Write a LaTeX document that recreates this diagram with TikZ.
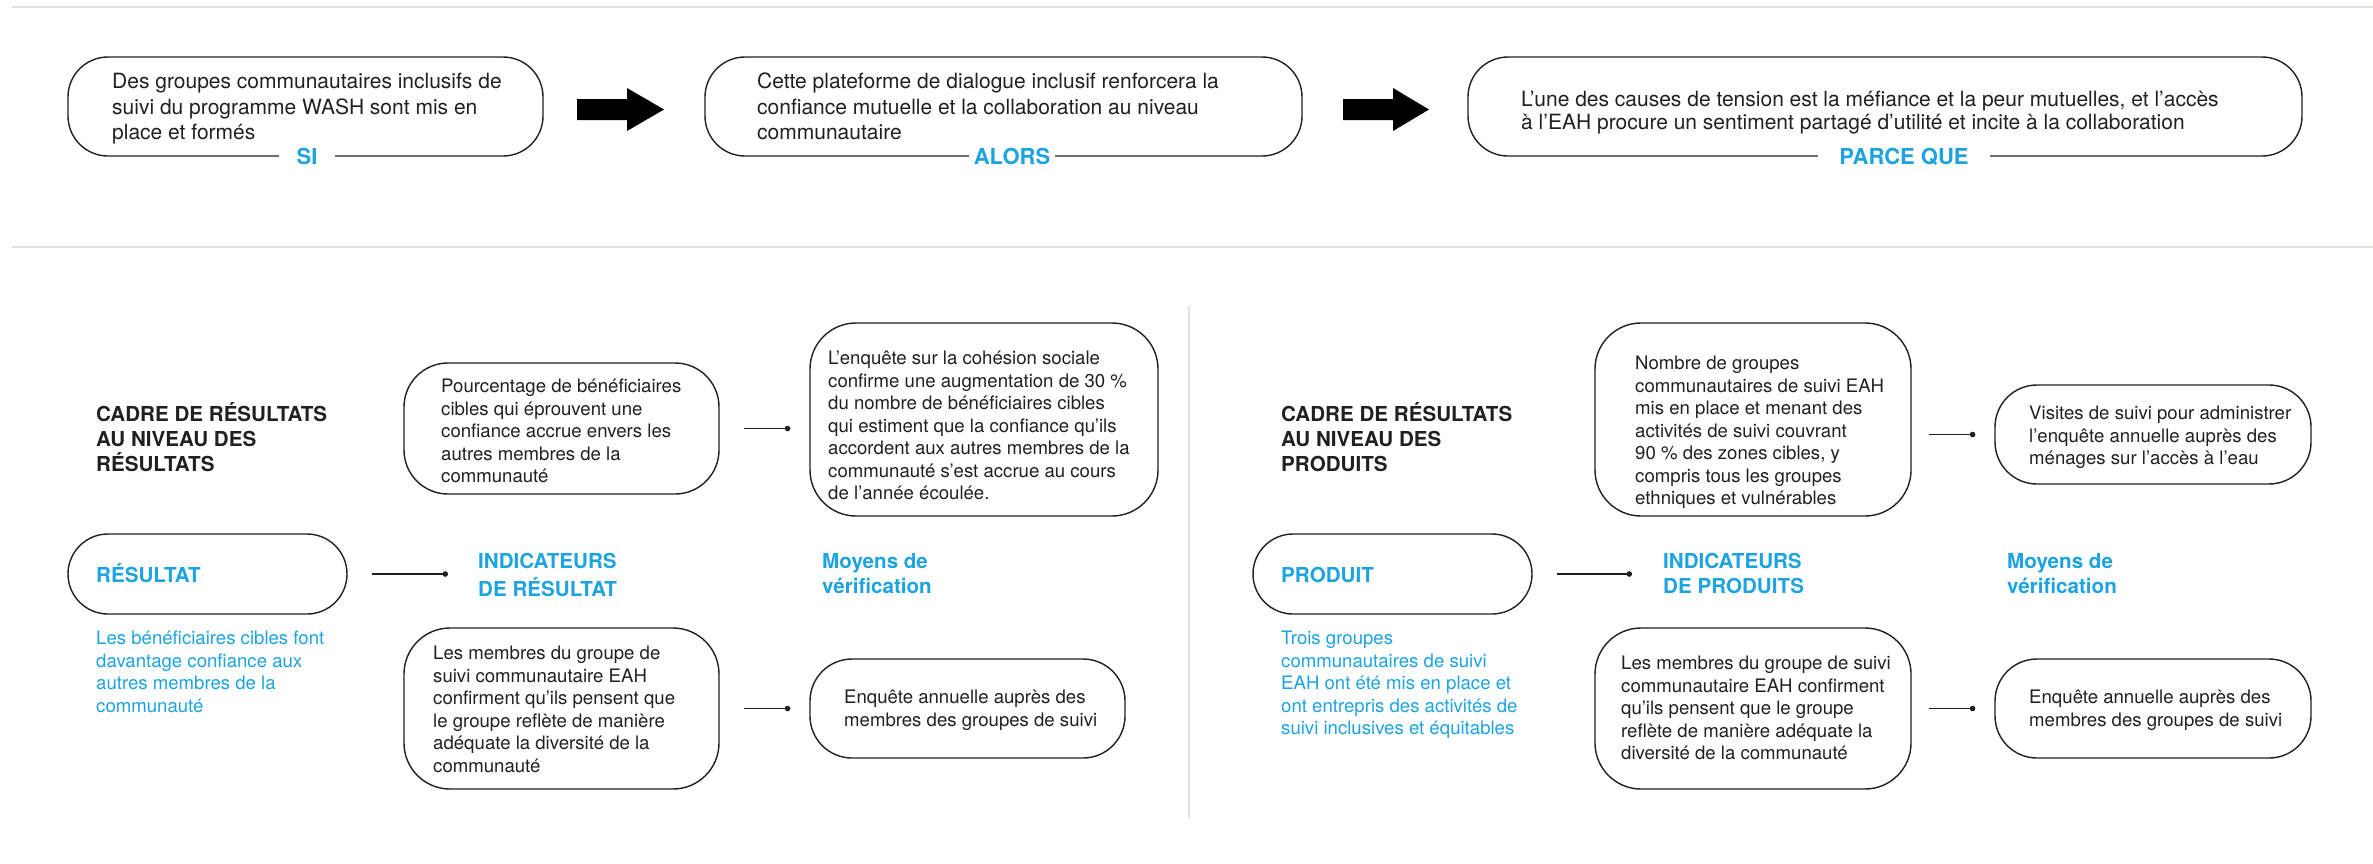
\documentclass[tikz,border=0pt]{standalone}
\usepackage{fontspec}
\setmainfont{TeX Gyre Heros}
\usetikzlibrary{arrows.meta,calc}
\definecolor{bleu}{RGB}{28,163,224}
\definecolor{encre}{RGB}{35,31,32}
\definecolor{trait}{RGB}{228,225,221}

\tikzset{
  boite/.style 2 args={draw=encre, line width=1.4pt, rounded corners=40pt,
    minimum width=#1, minimum height=#2, inner sep=0pt},
  texte/.style={anchor=north west, align=left, inner sep=0pt, text=encre,
    font=\fontsize{18.6pt}{22.5pt}\selectfont},
  texteh/.style={texte, font=\fontsize{21pt}{25.5pt}\selectfont},
  titre/.style={anchor=north west, align=left, inner sep=0pt, text=encre,
    font=\bfseries\fontsize{20.6pt}{25pt}\selectfont},
  etiquette/.style={anchor=base, fill=white, text=bleu, inner ysep=2pt,
    font=\bfseries\fontsize{22pt}{26pt}\selectfont},
  lien/.style={draw=encre, line width=1.3pt, -{Circle[length=5.5pt]}},
  fleche/.style={fill=black}
}

\begin{document}
\begin{tikzpicture}[x=1pt,y=-1pt]
\useasboundingbox (0,0) rectangle (2373,863);

\draw[trait, line width=2pt] (12,7) -- (2373,7);
\draw[trait, line width=2pt] (12,247) -- (2373,247);
\draw[trait, line width=1.5pt] (1189,306) -- (1189,818);

\node[boite={475}{99}] (si) at (305.5,106.5) {};
\node[boite={597}{99}] (alors) at (1003.5,106.5) {};
\node[boite={834}{99}] (parce) at (1885,106.5) {};

\node[texteh] (sitxt) at (112,70.5) {\strut Des groupes communautaires inclusifs de\\suivi du programme WASH sont mis en\\place et formés};
\node[texteh] (alorstxt) at (757,70.5) {\strut Cette plateforme de dialogue inclusif renforcera la\\confiance mutuelle et la collaboration au niveau\\communautaire};
\node[texteh, font=\fontsize{21pt}{23pt}\selectfont] (parcetxt) at (1521,90) {\strut L’une des causes de tension est la méfiance et la peur mutuelles, et l’accès\\à l’EAH procure un sentiment partagé d’utilité et incite à la collaboration};

\node[etiquette, inner xsep=18pt] (lblsi) at (307,164.4) {SI};
\node[etiquette, inner xsep=4.5pt] (lblalors) at (1012,164.4) {ALORS};
\node[etiquette, inner xsep=21pt] (lblparce) at (1904,164.4) {PARCE QUE};

\coordinate (f1) at (620.5,109.5);
\coordinate (f2) at (1386,109.5);
\fill[fleche] (f1) ++(-43.5,-10.5) -- ++(50,0) -- ++(0,-11) -- ++(37,21.5) -- ++(-37,21.5) -- ++(0,-11) -- ++(-50,0) -- cycle;
\fill[fleche] (f2) ++(-43,-10.5) -- ++(50,0) -- ++(0,-11) -- ++(36,21.5) -- ++(-36,21.5) -- ++(0,-11) -- ++(-50,0) -- cycle;

\node[titre] (cadre1) at (96,402) {\strut CADRE DE RÉSULTATS\\AU NIVEAU DES\\RÉSULTATS};
\node[boite={279}{80}] (res) at (207.5,574) {};
\node[titre, anchor=base west, text=bleu] (restxt) at (96,582.4) {RÉSULTAT};
\node[texte, text=bleu] (resdesc) at (96,629) {\strut Les bénéficiaires cibles font\\davantage confiance aux\\autres membres de la\\communauté};
\node[titre, text=bleu] (indtit1) at (478,551) {\strut INDICATEURS\\DE RÉSULTAT};
\node[titre, text=bleu] (movtit1) at (822,551) {\strut Moyens de\\vérification};

\node[boite={315}{131}, rounded corners=44pt] (ind1) at (561.5,428.5) {};
\node[texte] (ind1txt) at (441,377) {\strut Pourcentage de bénéficiaires\\cibles qui éprouvent une\\confiance accrue envers les\\autres membres de la\\communauté};
\node[boite={348}{193}, rounded corners=46pt] (mov1) at (984,419.5) {};
\node[texte] (mov1txt) at (828,349) {\strut L’enquête sur la cohésion sociale\\confirme une augmentation de 30~\%\\du nombre de bénéficiaires cibles\\qui estiment que la confiance qu’ils\\accordent aux autres membres de la\\communauté s’est accrue au cours\\de l’année écoulée.};
\node[boite={315}{161}, rounded corners=46pt] (ind2) at (561.5,708.5) {};
\node[texte] (ind2txt) at (433,644) {\strut Les membres du groupe de\\suivi communautaire EAH\\confirment qu’ils pensent que\\le groupe reflète de manière\\adéquate la diversité de la\\communauté};
\node[boite={315}{99}, rounded corners=42pt] (mov2) at (967.5,708.5) {};
\node[texte] (mov2txt) at (844,688) {\strut Enquête annuelle auprès des\\membres des groupes de suivi};

\draw[lien, shorten <=24pt, shorten >=30pt] (res.east) -- (res.east -| indtit1.west);
\draw[lien, shorten <=24pt, shorten >=19pt] (ind1.east) -- (ind1.east -| mov1.west);
\draw[lien, shorten <=24pt, shorten >=19pt] (ind2.east) -- (ind2.east -| mov2.west);

\node[titre] (cadre2) at (1281,402) {\strut CADRE DE RÉSULTATS\\AU NIVEAU DES\\PRODUITS};
\node[boite={279}{80}] (prod) at (1392.5,574) {};
\node[titre, anchor=base west, text=bleu] (prodtxt) at (1281,582.4) {PRODUIT};
\node[texte, text=bleu] (proddesc) at (1281,629) {\strut Trois groupes\\communautaires de suivi\\EAH ont été mis en place et\\ont entrepris des activités de\\suivi inclusives et équitables};
\node[titre, text=bleu] (indtit2) at (1663,551) {\strut INDICATEURS\\DE PRODUITS};
\node[titre, text=bleu] (movtit2) at (2007,551) {\strut Moyens de\\vérification};

\node[boite={316}{193}, rounded corners=46pt] (ind3) at (1753,419.5) {};
\node[texte] (ind3txt) at (1635,354) {\strut Nombre de groupes\\communautaires de suivi EAH\\mis en place et menant des\\activités de suivi couvrant\\90~\% des zones cibles, y\\compris tous les groupes\\ethniques et vulnérables};
\node[boite={316}{99}, rounded corners=42pt] (mov3) at (2153,434.5) {};
\node[texte] (mov3txt) at (2029,404) {\strut Visites de suivi pour administrer\\l’enquête annuelle auprès des\\ménages sur l’accès à l’eau};
\node[boite={316}{161}, rounded corners=46pt] (ind4) at (1753,708.5) {};
\node[texte] (ind4txt) at (1621,654) {\strut Les membres du groupe de suivi\\communautaire EAH confirment\\qu’ils pensent que le groupe\\reflète de manière adéquate la\\diversité de la communauté};
\node[boite={316}{99}, rounded corners=42pt] (mov4) at (2153,708.5) {};
\node[texte] (mov4txt) at (2029,688) {\strut Enquête annuelle auprès des\\membres des groupes de suivi};

\draw[lien, shorten <=24pt, shorten >=31pt] (prod.east) -- (prod.east -| indtit2.west);
\draw[lien, shorten <=17pt, shorten >=19pt] (ind3.east |- mov3.west) -- (mov3.west);
\draw[lien, shorten <=17pt, shorten >=19pt] (ind4.east) -- (ind4.east -| mov4.west);
\end{tikzpicture}
\end{document}
